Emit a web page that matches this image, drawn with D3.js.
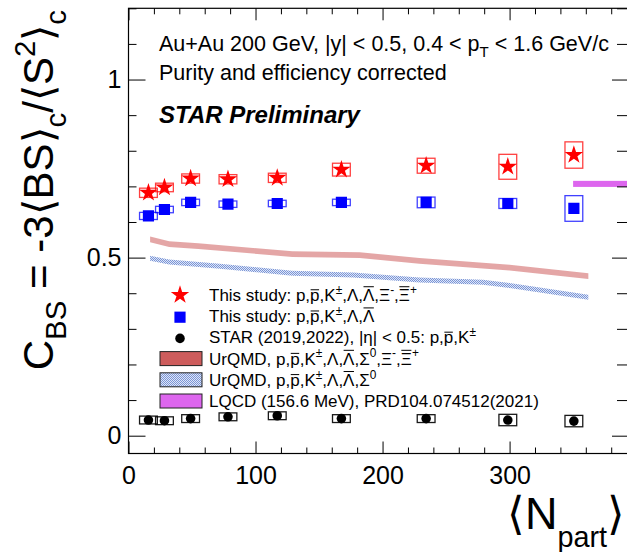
<!DOCTYPE html>
<html>
<head>
<meta charset="utf-8">
<script src="https://cdn.jsdelivr.net/npm/d3@7"></script>
<style>
  html, body { margin: 0; padding: 0; background: #fff; }
  svg { display: block; }
  text { font-family: "Liberation Sans", Arial, Helvetica, sans-serif; fill: #000; white-space: pre; }
</style>
</head>
<body>
<svg id="chart" width="627" height="552"></svg>
<script>
// Centrality classes (0-5% ... 70-80%), mean number of participants
const npart = [15.7, 28.3, 48.9, 78.3, 117.1, 167.6, 234.3, 298.6, 350.6];

// This study, with Xi baryons
const cbsXi    = [0.682, 0.697, 0.722, 0.720, 0.724, 0.747, 0.758, 0.755, 0.788];
const cbsXiSys = [0.013, 0.012, 0.013, 0.013, 0.013, 0.018, 0.021, 0.035, 0.037];
// This study, without Xi baryons
const cbsLam    = [0.617, 0.635, 0.655, 0.650, 0.652, 0.655, 0.655, 0.652, 0.638];
const cbsLamSys = [0.010, 0.009, 0.009, 0.009, 0.009, 0.009, 0.015, 0.014, 0.036];
// Earlier STAR result, protons and kaons only
const cbsPK    = [0.044, 0.042, 0.048, 0.053, 0.056, 0.048, 0.048, 0.044, 0.041];
const cbsPKSys = [0.011, 0.011, 0.011, 0.011, 0.011, 0.011, 0.011, 0.016, 0.016];
const sysHalfWidth = 7;   // half width of systematic boxes, in Npart units

// UrQMD bands
const urqmdXiN   = [17, 32, 55, 129, 182, 229, 300, 362];
const urqmdXi    = [0.551, 0.538, 0.532, 0.510, 0.507, 0.491, 0.472, 0.448];
const urqmdXiErr = 0.008;
const urqmdLamN   = [17, 32, 72, 129, 177, 229, 279, 300, 362];
const urqmdLam    = [0.498, 0.488, 0.476, 0.456, 0.451, 0.437, 0.431, 0.422, 0.389];
const urqmdLamErr = 0.007;

// Lattice QCD
const lqcdRange = [350, 400];
const lqcdValue = 0.707;
const lqcdErr   = 0.0085;

// Axes
const xMajor = [0, 100, 200, 300];
const xMinorStep = 20;
const yMajor = [0, 0.5, 1];
const yTickLabels = ["0", "0.5", "1"];
const yMinorStep = 0.1;

// Texts
const headerLines = ["Au+Au 200 GeV, |y| < 0.5, 0.4 < p_{T} < 1.6 GeV/c", "Purity and efficiency corrected"];
const prelimLabel = "STAR Preliminary";
const yTitle = "C_{BS} = -3⟨BS⟩_{c}/⟨S^{2}⟩_{c}";
const xTitle = "⟨N_{part}⟩";
const legendLabels = [
  "This study: p,#bar{p},K^{±},Λ,#bar{Λ},Ξ^{-},#bar{Ξ}^{+}",
  "This study: p,#bar{p},K^{±},Λ,#bar{Λ}",
  "STAR (2019,2022), |η| < 0.5: p,#bar{p},K^{±}",
  "UrQMD, p,#bar{p},K^{±},Λ,#bar{Λ},Σ^{0},Ξ^{-},#bar{Ξ}^{+}",
  "UrQMD, p,#bar{p},K^{±},Λ,#bar{Λ},Σ^{0}",
  "LQCD (156.6 MeV), PRD104.074512(2021)"
];

const frame = { left: 128.5, right: 629, top: 8.3, bottom: 453.5 };

const svg = d3.select("#chart");
const x = d3.scaleLinear().domain([0, 394]).range([frame.left, frame.right]);
const y = d3.scaleLinear().domain([-0.05, 1.2]).range([frame.bottom, frame.top]);

const defs = svg.append("defs");
defs.append("clipPath").attr("id", "plotClip")
  .append("rect").attr("x", frame.left).attr("y", frame.top)
  .attr("width", frame.right - frame.left).attr("height", frame.bottom - frame.top);

// Dotted fill for the UrQMD band without Xi
const pat = defs.append("pattern").attr("id", "dotFill")
  .attr("patternUnits", "userSpaceOnUse").attr("width", 2).attr("height", 2);
pat.append("rect").attr("width", 2).attr("height", 2).attr("fill", "#dfe6f7");
pat.append("rect").attr("width", 1).attr("height", 1).attr("fill", "#7a95d6");
pat.append("rect").attr("x", 1).attr("y", 1).attr("width", 1).attr("height", 1).attr("fill", "#7a95d6");

// ---- rich text helper: ^{sup}, _{sub}, #bar{overline}
function parseRich(str) {
  const out = [];
  let buf = "", i = 0;
  const push = (t, mode, bar) => { if (t) out.push({ t, mode, bar }); };
  while (i < str.length) {
    if (str.startsWith("^{", i) || str.startsWith("_{", i) || str.startsWith("#bar{", i)) {
      push(buf, "n", false); buf = "";
      const mode = str[i] === "^" ? "sup" : str[i] === "_" ? "sub" : "n";
      const bar = str[i] === "#";
      i = str.indexOf("{", i) + 1;
      const j = str.indexOf("}", i);
      push(str.slice(i, j), mode, bar);
      i = j + 1;
    } else { buf += str[i]; i++; }
  }
  push(buf, "n", false);
  return out;
}

function drawRich(g, str, size, opt = {}) {
  const supShift = opt.supShift ?? 0.42, subShift = opt.subShift ?? 0.3, scale = opt.scale ?? 0.7;
  const text = g.append("text").style("font-size", size + "px");
  if (opt.anchor) text.attr("text-anchor", opt.anchor);
  const segs = parseRich(str);
  let cur = 0;
  segs.forEach(s => {
    const off = s.mode === "sup" ? -size * supShift : s.mode === "sub" ? size * subShift : 0;
    const fs = s.mode === "n" ? size : size * scale;
    s.node = text.append("tspan").attr("dy", off - cur).style("font-size", fs + "px").text(s.t).node();
    cur = off;
  });
  segs.filter(s => s.bar).forEach(s => {
    const x0 = s.node.getStartPositionOfChar(0).x;
    const w = s.node.getComputedTextLength();
    const lower = s.t === s.t.toLowerCase();
    const yb = -size * (lower ? 0.66 : 0.84);
    g.append("line").attr("x1", x0 + 0.5).attr("x2", x0 + w - 0.5)
      .attr("y1", yb).attr("y2", yb).attr("stroke", "#000").attr("stroke-width", 1);
  });
  return text;
}

// ---- plot contents (clipped to frame)
const plot = svg.append("g").attr("clip-path", "url(#plotClip)");

function band(nArr, vArr, err) {
  const pts = nArr.map((n, i) => [n, vArr[i]]);
  return d3.area().x(d => x(d[0])).y0(d => y(d[1] - err)).y1(d => y(d[1] + err))(pts);
}

plot.append("path").attr("d", band(urqmdXiN, urqmdXi, urqmdXiErr))
  .attr("fill", "#cd5c5c").attr("fill-opacity", 0.55);
plot.append("path").attr("d", band(urqmdLamN, urqmdLam, urqmdLamErr))
  .attr("fill", "url(#dotFill)");

plot.append("rect")
  .attr("x", x(lqcdRange[0])).attr("width", x(lqcdRange[1]) - x(lqcdRange[0]))
  .attr("y", y(lqcdValue + lqcdErr)).attr("height", y(lqcdValue - lqcdErr) - y(lqcdValue + lqcdErr))
  .attr("fill", "#dd66ee");

function sysBoxes(vals, errs, color, opacity) {
  plot.append("g").selectAll("rect").data(vals).join("rect")
    .attr("x", (d, i) => x(npart[i] - sysHalfWidth))
    .attr("width", (d, i) => x(npart[i] + sysHalfWidth) - x(npart[i] - sysHalfWidth))
    .attr("y", (d, i) => y(d + errs[i]))
    .attr("height", (d, i) => y(d - errs[i]) - y(d + errs[i]))
    .attr("fill", "none").attr("stroke", color).attr("stroke-opacity", opacity).attr("stroke-width", 1.3);
}
sysBoxes(cbsXi, cbsXiSys, "#ff0000", 0.75);
sysBoxes(cbsLam, cbsLamSys, "#0000ff", 0.75);
sysBoxes(cbsPK, cbsPKSys, "#000000", 0.9);

const starPath = d3.symbol(d3.symbolStar, 105)();
const squarePath = d3.symbol(d3.symbolSquare, 125)();
const circlePath = d3.symbol(d3.symbolCircle, 72)();

plot.append("g").selectAll("path").data(cbsXi).join("path")
  .attr("d", starPath).attr("fill", "#ff0000")
  .attr("transform", (d, i) => `translate(${x(npart[i])},${y(d)})`);
plot.append("g").selectAll("path").data(cbsLam).join("path")
  .attr("d", squarePath).attr("fill", "#0000ff")
  .attr("transform", (d, i) => `translate(${x(npart[i])},${y(d)})`);
plot.append("g").selectAll("path").data(cbsPK).join("path")
  .attr("d", circlePath).attr("fill", "#000")
  .attr("transform", (d, i) => `translate(${x(npart[i])},${y(d)})`);

// ---- axes (ticks pointing inward on all four sides)
const xMinor = d3.range(0, 394, xMinorStep).filter(v => !xMajor.includes(v));
const yMinor = d3.range(0, 1.2001, yMinorStep).map(v => +v.toFixed(2)).filter(v => !yMajor.includes(v));

function axisGroup(axis, tx, ty) {
  const g = svg.append("g").attr("transform", `translate(${tx},${ty})`).call(axis);
  g.select(".domain").remove();
  g.selectAll(".tick line").attr("stroke", "#000");
  return g;
}
const labelFont = 25;
const xb = axisGroup(d3.axisBottom(x).tickValues(xMajor).tickSize(-12).tickPadding(12.5).tickFormat(d3.format("d")), 0, frame.bottom);
xb.selectAll("text").style("font-size", labelFont + "px").attr("font-family", null);
axisGroup(d3.axisBottom(x).tickValues(xMinor).tickSize(-6).tickFormat(""), 0, frame.bottom);
axisGroup(d3.axisTop(x).tickValues(xMajor).tickSize(-12).tickFormat(""), 0, frame.top);
axisGroup(d3.axisTop(x).tickValues(xMinor).tickSize(-6).tickFormat(""), 0, frame.top);

const yl = axisGroup(d3.axisLeft(y).tickValues(yMajor).tickSize(-17).tickPadding(7)
  .tickFormat((d, i) => yTickLabels[i]), frame.left, 0);
yl.selectAll("text").style("font-size", labelFont + "px").attr("font-family", null);
axisGroup(d3.axisLeft(y).tickValues(yMinor).tickSize(-8).tickFormat(""), frame.left, 0);
axisGroup(d3.axisRight(y).tickValues(yMajor).tickSize(-17).tickFormat(""), frame.right, 0);
axisGroup(d3.axisRight(y).tickValues(yMinor).tickSize(-12).tickFormat(""), frame.right, 0);

svg.selectAll(".tick text").attr("fill", "#000");

// frame
svg.append("rect").attr("x", frame.left).attr("y", frame.top)
  .attr("width", frame.right - frame.left).attr("height", frame.bottom - frame.top)
  .attr("fill", "none").attr("stroke", "#000").attr("stroke-width", 1.2);

// ---- axis titles
const yt = svg.append("g").attr("transform", `translate(53,10) rotate(-90)`);
drawRich(yt, yTitle, 42, { anchor: "end", subShift: 0.3, supShift: 0.42 });
const xt = svg.append("g").attr("transform", `translate(625,529)`);
drawRich(xt, xTitle, 45, { anchor: "end", subShift: 0.4, scale: 0.64 });

// ---- header annotations
headerLines.forEach((s, i) => {
  const g = svg.append("g").attr("transform", `translate(159,${51 + i * 29})`);
  drawRich(g, s, 21.5, { subShift: 0.3 });
});
svg.append("text").attr("x", 159).attr("y", 123)
  .style("font-size", "24px").style("font-weight", "bold").style("font-style", "italic")
  .text(prelimLabel);

// ---- legend
const legX = 180, legTextX = 209, legY0 = 295, legStep = 21.2;
const legend = svg.append("g");
legendLabels.forEach((s, i) => {
  const cy = legY0 + i * legStep;
  const g = legend.append("g").attr("transform", `translate(${legTextX},${cy + 6})`);
  drawRich(g, s, 17, { supShift: 0.42 });
});
legend.append("path").attr("d", starPath).attr("fill", "#ff0000")
  .attr("transform", `translate(${legX},${legY0})`);
legend.append("path").attr("d", squarePath).attr("fill", "#0000ff")
  .attr("transform", `translate(${legX},${legY0 + legStep + 1})`);
legend.append("path").attr("d", circlePath).attr("fill", "#000")
  .attr("transform", `translate(${legX},${legY0 + 2 * legStep + 1})`);
const legFills = ["#cd5c5c", "url(#dotFill)", "#dd66ee"];
legFills.forEach((f, k) => {
  const cy = legY0 + (3 + k) * legStep;
  legend.append("rect").attr("x", 160).attr("y", cy - 7).attr("width", 42).attr("height", 14)
    .attr("fill", f).attr("stroke", "#222").attr("stroke-width", 1);
});
</script>
</body>
</html>
